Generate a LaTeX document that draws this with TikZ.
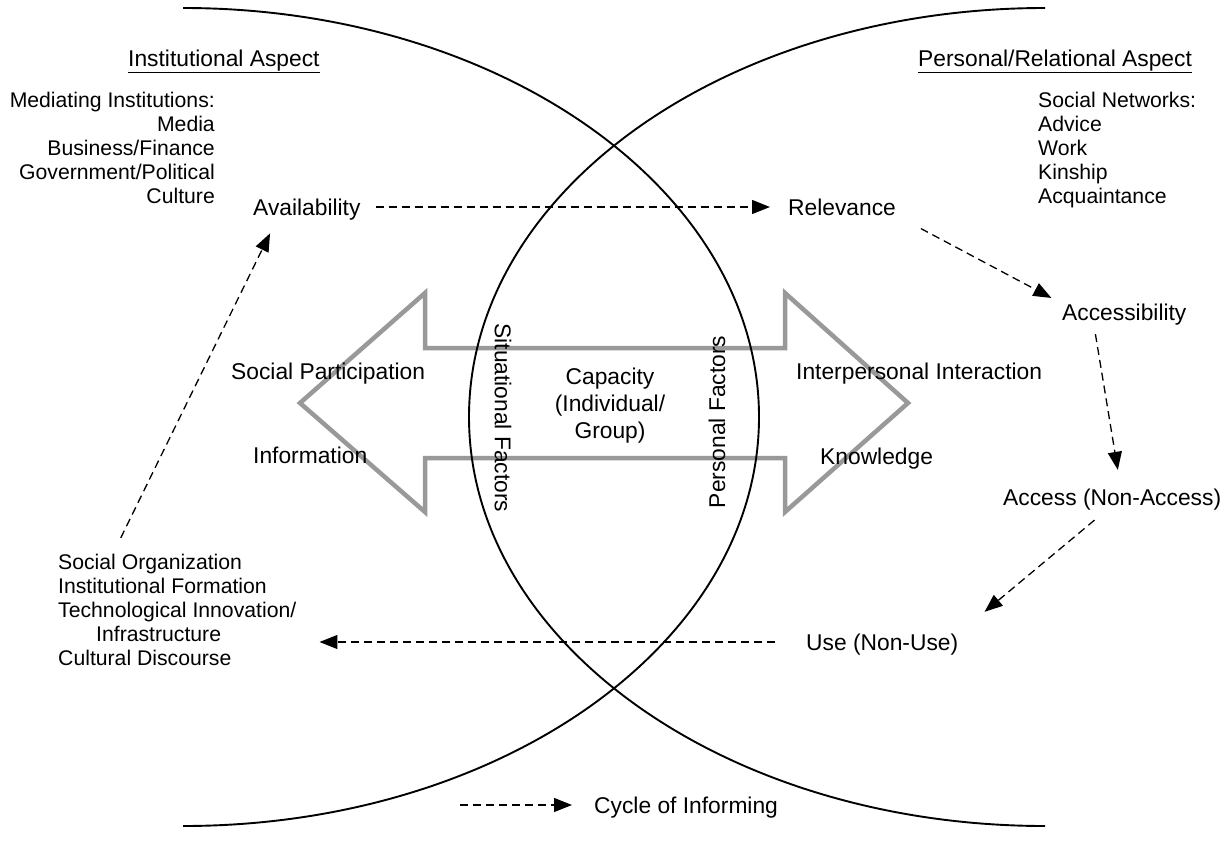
\documentclass[tikz,border=0pt]{standalone}
\usepackage{fontspec}
\setmainfont{Liberation Sans}
\usetikzlibrary{arrows.meta,positioning,calc}
\newcommand{\lblfont}{\fontsize{22.8pt}{27pt}\selectfont}
\newcommand{\lstfont}{\fontsize{21.2pt}{24pt}\selectfont}
\tikzset{
  lbl/.style={font=\lblfont, inner sep=0pt, text height=16.4pt, text depth=0pt},
  lst/.style={font=\lstfont, inner sep=0pt},
  capbox/.style={font=\lblfont, inner sep=0pt, align=center},
  lens/.style={draw=black, line width=1.9pt},
  fatarrow/.style={draw=gray!80, line width=4.5pt, line join=miter},
  cyc/.style={-{Triangle[length=18pt,width=14pt]}, draw=black, line width=1.3pt,
              dash pattern=on 8pt off 5pt},
}

\begin{document}
\begin{tikzpicture}[x=1pt, y=-1pt]
\useasboundingbox (0,0) rectangle (1230,850);

% capacity double arrow
\draw[fatarrow] (300,403) -- (425,293) -- (425,348) -- (785,348) -- (785,293)
  -- (908,403) -- (785,512) -- (785,458) -- (425,458) -- (425,512) -- cycle;

% the two aspects
\draw[lens] (183,8) arc[start angle=-90, end angle=90, x radius=576, y radius=409];
\draw[lens] (1045,8) arc[start angle=-90, end angle=-270, x radius=576, y radius=409];

% headings
\node[lbl, anchor=west] (insthd) at (128,58) {\underline{Institutional Aspect}};
\node[lbl, anchor=west] (perhd) at (918,58) {\underline{Personal/Relational Aspect}};

% lists
\node[lst, align=right, anchor=north east] (medinst) at (215,92)
  {Mediating Institutions:\\Media\\Business/Finance\\Government/Political\\Culture};
\node[lst, align=left, anchor=north west] (socnet) at (1038,92)
  {Social Networks:\\Advice\\Work\\Kinship\\Acquaintance};
\node[lst, align=left, anchor=north west] (socorg) at (58,554)
  {Social Organization\\Institutional Formation\\Technological Innovation/\\\hspace*{38pt}Infrastructure\\Cultural Discourse};

% cycle stages
\node[lbl, anchor=west] (avail) at (253,207) {Availability};
\node[lbl, anchor=west] (relev) at (788,207) {Relevance};
\node[lbl, anchor=west] (acsb) at (1062,312) {Accessibility};
\node[lbl, anchor=west] (acs) at (1003,497) {Access (Non-Access)};
\node[lbl, anchor=west] (use) at (806,642) {Use (Non-Use)};

% inside the arrow
\node[lbl, anchor=west] (socpart) at (231,371) {Social Participation};
\node[lbl, anchor=west] (info) at (253,455) {Information};
\node[lbl, anchor=west] (inter) at (796,371) {Interpersonal Interaction};
\node[lbl, anchor=west] (know) at (820,456) {Knowledge};
\node[capbox, anchor=north] (capac) at (610,368) {Capacity\\(Individual/\\Group)};
\node[lbl, rotate=-90] (sitf) at (503,418) {Situational Factors};
\node[lbl, rotate=90] (persf) at (717,422) {Personal Factors};

% cycle of informing
\draw[cyc, shorten <=15pt, shorten >=18pt] (avail) -- (relev);
\draw[cyc, shorten <=28pt, shorten >=12pt] (relev.south east) -- (acsb.north west);
\draw[cyc, shorten <=14pt, shorten >=19pt]
  ($(acsb.south west)!0.25!(acsb.south east)$) -- ($(acs.north west)!0.54!(acs.north east)$);
\draw[cyc, shorten <=23pt, shorten >=34pt] (acs.south) -- (use.north east);
\draw[cyc, shorten <=31pt, shorten >=23pt] (use.west) -- (use.west -| socorg.east);
\draw[cyc, shorten <=18pt, shorten >=20pt]
  ($(socorg.north west)!0.23!(socorg.north east)$) -- ($(avail.south west)!0.24!(avail.south east)$);

% legend
\coordinate (legtail) at (460,805);
\node[lbl, right=134pt of legtail] (legend) {Cycle of Informing};
\draw[cyc, shorten >=22pt] (legtail) -- (legend.west);
\end{tikzpicture}
\end{document}
